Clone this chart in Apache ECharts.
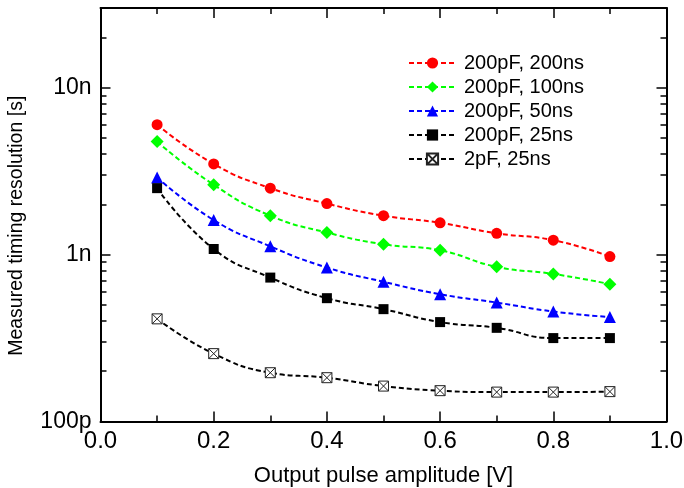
<!DOCTYPE html>
<html>
<head>
<meta charset="utf-8">
<script src="https://cdn.jsdelivr.net/npm/echarts@6/dist/echarts.min.js"></script>
<style>
  html, body { margin: 0; padding: 0; background: #fff; }
  #chart { width: 684px; height: 488px; }
</style>
</head>
<body>
<div id="chart"></div>
<script>
// Output pulse amplitude [V]
const amplitudes = [0.1, 0.2, 0.3, 0.4, 0.5, 0.6, 0.7, 0.8, 0.9];

// Measured timing resolution, in nanoseconds
const res200pF200ns = [6.0, 3.49, 2.50, 2.02, 1.71, 1.55, 1.34, 1.22, 0.973];
const res200pF100ns = [4.75, 2.62, 1.71, 1.355, 1.153, 1.06, 0.844, 0.766, 0.665];
const res200pF50ns  = [2.90, 1.61, 1.12, 0.836, 0.687, 0.579, 0.516, 0.456, 0.422];
const res200pF25ns  = [2.50, 1.08, 0.728, 0.548, 0.471, 0.394, 0.364, 0.316, 0.316];
const res2pF25ns    = [0.412, 0.255, 0.196, 0.183, 0.163, 0.153, 0.150, 0.150, 0.151];

const seriesNames = ['200pF, 200ns', '200pF, 100ns', '200pF, 50ns', '200pF, 25ns', '2pF, 25ns'];

// Axis ticks
const xTickLabels = ['0.0', '0.2', '0.4', '0.6', '0.8', '1.0'];
const yMajorTicks = [1e-10, 1e-9, 1e-8];
const yMajorLabels = ['100p', '1n', '10n'];
const yMinorTicks = [
  2e-10, 3e-10, 4e-10, 5e-10, 6e-10, 7e-10, 8e-10, 9e-10,
  2e-9, 3e-9, 4e-9, 5e-9, 6e-9, 7e-9, 8e-9, 9e-9,
  2e-8, 3e-8
];

const FONT = '"Liberation Sans", Arial, sans-serif';
const boxX = 'path://M0,0L10,0L10,10L0,10Z M0,0L10,10 M10,0L0,10';

const toPoints = arr => arr.map((v, i) => [amplitudes[i], v * 1e-9]);

const styles = [
  { color: '#ff0000', symbol: 'circle', size: 11 },
  { color: '#00ff00', symbol: 'diamond', size: 13 },
  { color: '#0000ff', symbol: 'triangle', size: 12 },
  { color: '#000000', symbol: 'rect', size: 10 },
  { color: '#000000', symbol: boxX, size: 10, hollow: true }
];
const values = [res200pF200ns, res200pF100ns, res200pF50ns, res200pF25ns, res2pF25ns];

const series = values.map((arr, k) => {
  const s = styles[k];
  return {
    name: seriesNames[k],
    type: 'line',
    xAxisIndex: 0,
    yAxisIndex: 0,
    data: toPoints(arr),
    smooth: 0.5,
    symbol: s.symbol,
    symbolSize: s.size,
    showAllSymbol: true,
    lineStyle: { color: s.color, width: 2, type: [5, 3] },
    itemStyle: s.hollow
      ? { color: '#ffffff', borderColor: '#222', borderWidth: 1 }
      : { color: s.color, borderWidth: 0 },
    emphasis: { disabled: true },
    animation: false
  };
});

const frameLine = { show: true, onZero: false, lineStyle: { color: '#000', width: 2 } };
const hiddenLine = { show: true, onZero: false, lineStyle: { color: '#000', width: 2, opacity: 0 } };
const tickStyle = { color: '#000', width: 1.5 };

// Four stacked grids share one rectangle so that each side of the frame
// can carry its own set of log ticks (major and minor).
const gridRect = { left: 100.5, right: 17.5, top: 8, bottom: 66.5, outerBoundsMode: 'none', containLabel: false };

function yAxisDef(gridIndex, position, major, withLabels) {
  return {
    gridIndex: gridIndex,
    type: 'log',
    logBase: 10,
    min: 1e-10,
    max: 3e-8,
    position: position,
    axisLine: major ? frameLine : hiddenLine,
    axisTick: {
      show: true,
      inside: true,
      length: major ? 10 : 6,
      lineStyle: tickStyle,
      customValues: major ? yMajorTicks : yMinorTicks
    },
    axisLabel: withLabels ? {
      show: true,
      customValues: yMajorTicks,
      formatter: v => {
        const idx = yMajorTicks.findIndex(t => Math.abs(Math.log10(t) - Math.log10(v)) < 1e-6);
        return idx >= 0 ? yMajorLabels[idx] : '';
      },
      fontFamily: FONT,
      fontSize: 23,
      color: '#000',
      margin: 9
    } : { show: false },
    splitLine: { show: false },
    minorTick: { show: false },
    name: withLabels ? 'Measured timing resolution [s]' : '',
    nameLocation: 'middle',
    nameGap: 74,
    nameMoveOverlap: false,
    nameTextStyle: { fontFamily: FONT, fontSize: 19.5, color: '#000', padding: [0, 22, 0, 0] }
  };
}

function xAxisDef(gridIndex, position, visible, withLabels) {
  return {
    gridIndex: gridIndex,
    show: visible,
    type: 'value',
    min: 0,
    max: 1,
    interval: 0.2,
    position: position,
    axisLine: frameLine,
    axisTick: { show: true, inside: true, length: 10, lineStyle: tickStyle },
    minorTick: { show: true, splitNumber: 2, length: 6, lineStyle: tickStyle },
    axisLabel: withLabels ? {
      show: true,
      formatter: v => xTickLabels[Math.round(v / 0.2)],
      fontFamily: FONT,
      fontSize: 24,
      color: '#000',
      margin: 8
    } : { show: false },
    splitLine: { show: false },
    minorSplitLine: { show: false },
    name: withLabels ? 'Output pulse amplitude [V]' : '',
    nameLocation: 'middle',
    nameGap: 43,
    nameMoveOverlap: false,
    nameTextStyle: { fontFamily: FONT, fontSize: 22, color: '#000' }
  };
}

const chart = echarts.init(document.getElementById('chart'), null, { renderer: 'canvas' });
chart.setOption({
  backgroundColor: '#fff',
  animation: false,
  grid: [gridRect, gridRect, gridRect, gridRect],
  xAxis: [
    xAxisDef(0, 'bottom', true, true),
    xAxisDef(1, 'top', true, false),
    xAxisDef(2, 'bottom', false, false),
    xAxisDef(3, 'top', false, false)
  ],
  yAxis: [
    yAxisDef(0, 'left', true, true),
    yAxisDef(1, 'right', true, false),
    yAxisDef(2, 'left', false, false),
    yAxisDef(3, 'right', false, false)
  ],
  legend: {
    orient: 'vertical',
    left: 403,
    top: 48,
    itemWidth: 47,
    itemHeight: 14,
    itemGap: 4,
    textStyle: { fontFamily: FONT, fontSize: 20, color: '#000', padding: [0, 0, 0, 3] },
    data: seriesNames
  },
  series: series
});
</script>
</body>
</html>
